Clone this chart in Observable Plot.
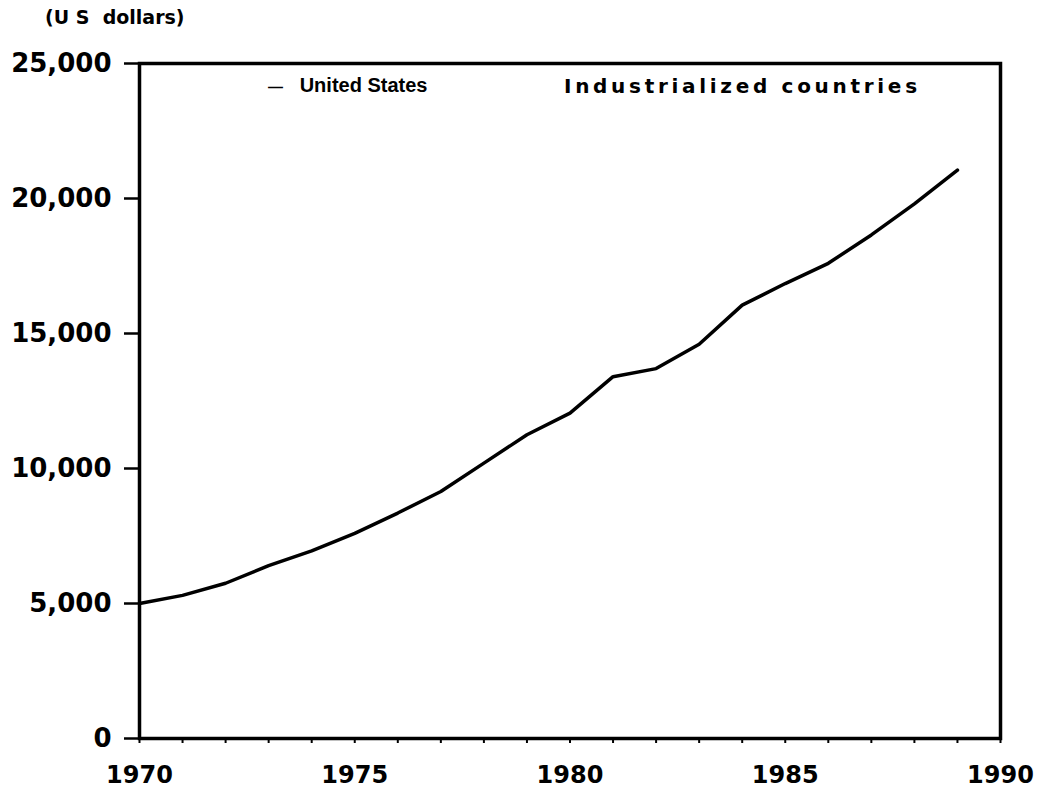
<!DOCTYPE html>
<html>
<head>
<meta charset="utf-8">
<script src="https://cdn.jsdelivr.net/npm/d3@7"></script>
<script src="https://cdn.jsdelivr.net/npm/@observablehq/plot@0.6"></script>
<style>
  html, body { margin: 0; padding: 0; background: #fff; }
  #wrap { position: relative; width: 1047px; height: 794px; }
  .unit { position: absolute; left: 45px; top: 6px; font-family: "DejaVu Sans", sans-serif; font-weight: bold; font-size: 19px; color: #000; white-space: pre; }
  .legend { position: absolute; top: 74px; font-family: "Liberation Sans", Arial, sans-serif; font-weight: bold; font-size: 20px; color: #000; white-space: pre; }
</style>
</head>
<body>
<div id="wrap">
  <div class="unit">(U S  dollars)</div>
  <div class="legend" style="left:268px"><span style="font-size:15px">—</span>   United States</div>
  <div class="legend" style="left:564px; font-family:'DejaVu Sans',sans-serif; font-size:20px; letter-spacing:3.7px">Industrialized countries</div>
</div>
<script>
const years = [1970, 1971, 1972, 1973, 1974, 1975, 1976, 1977, 1978, 1979,
               1980, 1981, 1982, 1983, 1984, 1985, 1986, 1987, 1988, 1989];
const unitedStates = [5000, 5300, 5750, 6400, 6950, 7600, 8350, 9150, 10200, 11250,
                      12050, 13400, 13700, 14600, 16050, 16850, 17600, 18650, 19800, 21050];
const xTicks = [1970, 1975, 1980, 1985, 1990];
const xMinorTicks = d3.range(1970, 1991);
const yTicks = [0, 5000, 10000, 15000, 20000, 25000];

const data = years.map((y, i) => ({year: y, value: unitedStates[i]}));

const chart = Plot.plot({
  width: 1047,
  height: 794,
  marginTop: 63,
  marginBottom: 56,
  marginLeft: 139,
  marginRight: 47,
  style: {fontFamily: "DejaVu Sans, sans-serif", fontWeight: "bold", fontSize: "24px", color: "#000", background: "#fff"},
  x: {domain: [1970, 1990]},
  y: {domain: [0, 25000]},
  marks: [
    Plot.axisY({ticks: yTicks, tickFormat: d3.format(","), tickSize: 15, tickPadding: 13, strokeWidth: 2.5, label: null, fontSize: 26}),
    Plot.axisX({ticks: xMinorTicks, tickFormat: () => "", tickSize: 5, strokeWidth: 2, label: null}),
    Plot.axisX({ticks: xTicks, tickFormat: d3.format("d"), tickSize: 0, tickPadding: 27, label: null, fontSize: 24}),
    Plot.frame({stroke: "#000", strokeWidth: 3.5}),
    Plot.line(data, {x: "year", y: "value", stroke: "#000", strokeWidth: 3.5})
  ]
});
document.getElementById("wrap").prepend(chart);
chart.style.position = "absolute";
chart.style.left = "0";
chart.style.top = "0";
</script>
</body>
</html>
